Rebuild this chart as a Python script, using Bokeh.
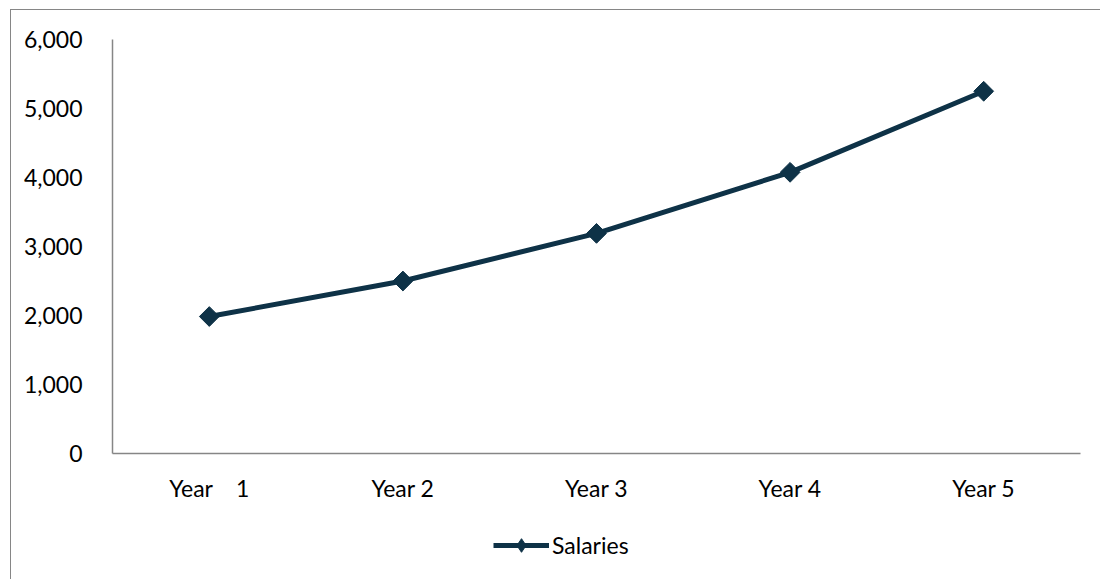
from bokeh.plotting import figure
from bokeh.layouts import column
from bokeh.models import Legend, LegendItem, NumeralTickFormatter, FactorRange, Range1d
from bokeh.embed import file_html
from bokeh.resources import INLINE
import math

NB = "\u00a0"
categories = ["Year" + NB * 4 + "1", "Year 2", "Year 3", "Year 4", "Year 5"]
salaries = [1985, 2500, 3190, 4075, 5250]
y_ticks = [0, 1000, 2000, 3000, 4000, 5000, 6000]
series_name = "Salaries"

COLOR = "#0E3247"
FONT = "Lato"
FS = "23px"

p = figure(
    x_range=FactorRange(*categories, range_padding=0),
    y_range=(0, 6000),
    frame_width=968, frame_height=414,
    min_border_left=101, min_border_top=29, min_border_right=21, min_border_bottom=60,
    output_backend="svg", toolbar_location=None,
)
p.x_range.factor_padding = 0
p.outline_line_color = None
p.grid.visible = False
p.background_fill_color = "white"

p.yaxis.ticker = y_ticks
p.yaxis.formatter = NumeralTickFormatter(format="0,0")
for ax in (p.xaxis[0], p.yaxis[0]):
    ax.axis_line_color = "#868686"
    ax.axis_line_width = 1.5
    ax.major_tick_line_color = None
    ax.minor_tick_line_color = None
    ax.major_label_text_font = FONT
    ax.major_label_text_font_size = FS
    ax.major_label_text_color = "#000000"
p.yaxis.major_label_standoff = 24
p.xaxis.major_label_standoff = 14

p.line(categories, salaries, line_color=COLOR, line_width=5)
p.scatter(categories, salaries, marker="square", angle=math.pi / 4, size=14,
          fill_color=COLOR, line_color=COLOR)

# legend strip below the chart (series drawn out of view, only the legend shows)
p2 = figure(width=1090, height=66, min_border=0, output_backend="svg",
            x_range=FactorRange(*categories), y_range=Range1d(-20000, -19000),
            toolbar_location=None, x_axis_type=None, y_axis_type=None)
p2.outline_line_color = None
p2.grid.visible = False
lr = p2.line(categories, salaries, line_color=COLOR, line_width=5)
ls = p2.scatter(categories, salaries, marker="diamond", size=14,
                fill_color=COLOR, line_color=COLOR)
legend = Legend(items=[LegendItem(label=series_name, renderers=[lr, ls])],
                location=(381, 17), orientation="horizontal",
                label_text_font=FONT, label_text_font_size=FS, label_text_color="#000000",
                glyph_width=56, glyph_height=34, label_standoff=3,
                border_line_color=None, background_fill_alpha=0, padding=0, margin=0)
p2.add_layout(legend, "center")

layout = column(p, p2, spacing=0, margin=(9, 0, 0, 10),
                styles={"border-left": "1px solid #868686", "border-top": "1px solid #868686"})

open("out.html", "w").write(file_html(layout, INLINE))
